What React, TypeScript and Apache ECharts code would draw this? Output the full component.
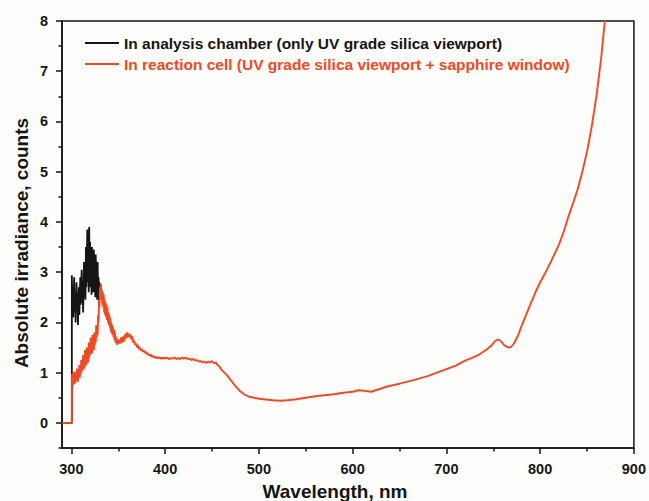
import { useEffect, useRef } from 'react';
import * as echarts from 'echarts';

const RED = '#EE4A26';
const INK = '#151515';
const FONT = '"Liberation Sans", Arial, sans-serif';

const blackName = 'In analysis chamber (only UV grade silica viewport)';
const redName = 'In reaction cell (UV grade silica viewport + sapphire window)';
const xAxisTitle = 'Wavelength, nm';
const yAxisTitle = 'Absolute irradiance, counts';

// x-axis ticks
const xMajorTicks = [300, 400, 500, 600, 700, 800, 900];
const xMinorTicks = [350, 450, 550, 650, 750, 850];
// y-axis ticks
const yMajorTicks = [0, 1, 2, 3, 4, 5, 6, 7, 8];
const yMinorTicks = [-0.5, 0.5, 1.5, 2.5, 3.5, 4.5, 5.5, 6.5, 7.5];

// dark baseline before the lamp onset (both curves)
const baselineNm = [290, 300.5];
const baselineValues = [0, 0];

// black curve: noisy UV segment, sampled every 0.5 nm from 300.5 nm
const blackStartNm = 300.5;
const blackStepNm = 0.5;
const blackValues = [
  2.94, 2.3, 2.7, 2.1, 2.6, 2.9, 2.2, 2.5, 2.0, 2.45,
  2.8, 2.25, 2.6, 1.95, 2.4, 2.7, 2.15, 2.55, 2.9, 2.35,
  2.75, 3.05, 2.4, 2.8, 2.2, 2.65, 3.2, 2.5, 3.0, 2.45,
  3.5, 2.7, 3.3, 3.85, 2.8, 3.4, 2.6, 3.9, 3.0, 3.6,
  2.7, 3.3, 2.55, 3.5, 2.9, 3.25, 2.6, 3.45, 2.75, 3.1,
  2.5, 3.35, 2.7, 3.0, 2.45, 3.2, 2.6, 2.9, 2.4, 2.8,
  2.5,
];

// red curve: noisy UV segment, every 0.5 nm from 300.5 to 350 nm
const redFineStartNm = 300.5;
const redFineStepNm = 0.5;
const redFineValues = [
  0.98, 0.8, 0.95, 0.75, 0.9, 1.02, 0.78, 0.92, 0.8, 1.0,
  0.85, 1.08, 0.9, 0.82, 1.05, 0.95, 1.15, 0.9, 1.1, 0.98,
  1.25, 1.02, 1.2, 1.05, 1.35, 1.1, 1.28, 1.08, 1.45, 1.2,
  1.38, 1.15, 1.5, 1.25, 1.42, 1.2, 1.6, 1.3, 1.48, 1.35,
  1.7, 1.4, 1.58, 1.38, 1.75, 1.5, 1.65, 1.45, 1.8, 1.55,
  1.75, 1.6, 1.95, 1.7, 1.9, 1.75, 2.15, 2.0, 2.45, 2.3,
  2.7, 2.5, 2.77, 2.45, 2.65, 2.35, 2.6, 2.3, 2.55, 2.2,
  2.45, 2.15, 2.4, 2.1, 2.35, 2.05, 2.3, 2.0, 2.2, 1.95,
  2.15, 1.9, 2.08, 1.82, 2.0, 1.78, 1.95, 1.75, 1.9, 1.7,
  1.85, 1.65, 1.8, 1.6, 1.72, 1.58, 1.68, 1.55, 1.65, 1.58,
];

// red curve: every 1 nm from 351 to 400 nm
const redCoarseStartNm = 351;
const redCoarseStepNm = 1;
const redCoarseValues = [
  1.66, 1.58, 1.7, 1.6, 1.72, 1.62, 1.76, 1.68, 1.8, 1.7,
  1.78, 1.72, 1.76, 1.66, 1.72, 1.6, 1.64, 1.55, 1.58, 1.5,
  1.55, 1.47, 1.5, 1.44, 1.47, 1.42, 1.45, 1.4, 1.42, 1.37,
  1.4, 1.35, 1.37, 1.33, 1.36, 1.31, 1.34, 1.3, 1.32, 1.29,
  1.31, 1.28, 1.31, 1.29, 1.3, 1.27, 1.3, 1.28, 1.3, 1.28,
];

// red curve: rest of the spectrum
const redTailNm = [
  402, 404, 406, 408, 410, 412, 414, 416, 418, 420,
  422, 424, 426, 428, 430, 432, 434, 436, 438, 440,
  442, 444, 446, 448, 450, 452, 454, 456, 458, 460,
  462, 465, 470, 475, 480, 485, 490, 495, 500,
  510, 515, 523, 530, 540, 550, 560, 570, 580, 590, 600,
  606, 612, 620, 628, 638, 650, 665, 680, 690, 700,
  710, 720, 728, 735, 743, 748, 752, 755, 758, 762,
  766, 769, 772, 776, 780, 785, 790, 795, 800,
  805, 810, 815, 820, 825, 830, 835, 840, 845, 850,
  855, 860, 865, 869, 874,
];
const redTailValues = [
  1.3, 1.27, 1.29, 1.28, 1.3, 1.27, 1.29, 1.27, 1.3, 1.28,
  1.3, 1.27, 1.28, 1.25, 1.27, 1.24, 1.25, 1.22, 1.23, 1.2,
  1.22, 1.19, 1.22, 1.2, 1.23, 1.19, 1.2, 1.15, 1.12, 1.06,
  1.02, 0.97, 0.85, 0.73, 0.63, 0.56, 0.52, 0.5, 0.48,
  0.46, 0.45, 0.44, 0.45, 0.47, 0.5, 0.53, 0.55, 0.57, 0.6, 0.62,
  0.65, 0.64, 0.62, 0.67, 0.73, 0.78, 0.85, 0.93, 1.0, 1.07,
  1.14, 1.24, 1.3, 1.36, 1.46, 1.54, 1.63, 1.66, 1.63, 1.54,
  1.5, 1.51, 1.58, 1.72, 1.92, 2.15, 2.38, 2.6, 2.8,
  2.97, 3.15, 3.35, 3.55, 3.8, 4.1, 4.37, 4.65, 5.0, 5.4,
  5.9, 6.5, 7.25, 8.0, 8.8,
];

const pairs = (nm: number[], vals: number[]) => vals.map((v, i) => [nm[i], v]);
const stepped = (start: number, step: number, vals: number[]) =>
  vals.map((v, i) => [start + i * step, v]);

const blackData = [
  ...pairs(baselineNm, baselineValues),
  ...stepped(blackStartNm, blackStepNm, blackValues),
];
const redData = [
  ...pairs(baselineNm, baselineValues),
  ...stepped(redFineStartNm, redFineStepNm, redFineValues),
  ...stepped(redCoarseStartNm, redCoarseStepNm, redCoarseValues),
  ...pairs(redTailNm, redTailValues),
];

const labelStyle = { fontFamily: FONT, fontWeight: 'bold' as const, fontSize: 14.5, color: INK };

export default function App() {
  const ref = useRef<HTMLDivElement>(null);
  useEffect(() => {
    const chart = echarts.init(ref.current!, null, { renderer: 'svg' });
    chart.setOption({
      animation: false,
      backgroundColor: '#fdfdfb',
      grid: {
        left: 62, right: 11, top: 21, bottom: 53,
        show: true, borderColor: INK, borderWidth: 1.5, backgroundColor: 'transparent',
      },
      legend: {
        left: 85, top: 35, padding: 0, orient: 'vertical', icon: 'rect',
        itemWidth: 34, itemHeight: 2, itemGap: 5, selectedMode: false,
        textStyle: { fontFamily: FONT, fontWeight: 'bold', fontSize: 15.5, lineHeight: 16 },
        data: [
          { name: blackName, textStyle: { color: INK } },
          { name: redName, textStyle: { color: RED } },
        ],
      },
      graphic: [
        {
          type: 'text', x: 335, y: 491,
          style: {
            text: xAxisTitle, fill: INK, font: `bold 19px ${FONT}`,
            align: 'center', verticalAlign: 'middle',
          },
        },
        {
          type: 'text', x: 21, y: 243, rotation: Math.PI / 2,
          style: {
            text: yAxisTitle, fill: INK, font: `bold 19px ${FONT}`,
            align: 'center', verticalAlign: 'middle',
          },
        },
      ],
      xAxis: [
        {
          type: 'value', min: 290, max: 900, position: 'bottom',
          axisLine: { show: true, onZero: false, lineStyle: { color: INK, width: 1.5 } },
          axisTick: { show: true, customValues: xMajorTicks, length: 6, lineStyle: { color: INK, width: 1.5 } },
          axisLabel: { customValues: xMajorTicks, margin: 13, ...labelStyle },
          splitLine: { show: false },
        },
        {
          type: 'value', min: 290, max: 900, position: 'bottom',
          axisLine: { show: false, onZero: false },
          axisTick: { show: true, customValues: xMinorTicks, length: 3.5, lineStyle: { color: INK, width: 1.5 } },
          axisLabel: { show: false },
          splitLine: { show: false },
        },
      ],
      yAxis: [
        {
          type: 'value', min: -0.5, max: 8, position: 'left',
          axisLine: { show: true, onZero: false, lineStyle: { color: INK, width: 1.5 } },
          axisTick: { show: true, customValues: yMajorTicks, length: 6, lineStyle: { color: INK, width: 1.5 } },
          axisLabel: { customValues: yMajorTicks, margin: 14, ...labelStyle },
          splitLine: { show: false },
        },
        {
          type: 'value', min: -0.5, max: 8, position: 'left',
          axisLine: { show: false, onZero: false },
          axisTick: { show: true, customValues: yMinorTicks, length: 3.5, lineStyle: { color: INK, width: 1.5 } },
          axisLabel: { show: false },
          splitLine: { show: false },
        },
      ],
      series: [
        {
          name: blackName, type: 'line', data: blackData, xAxisIndex: 0, yAxisIndex: 0,
          showSymbol: false, symbol: 'none', color: INK, lineStyle: { color: INK, width: 1.8 }, clip: true,
        },
        {
          name: redName, type: 'line', data: redData, xAxisIndex: 0, yAxisIndex: 0,
          showSymbol: false, symbol: 'none', color: RED, lineStyle: { color: RED, width: 1.9 }, clip: true,
        },
      ],
    });
    return () => chart.dispose();
  }, []);
  return (
    <div
      ref={ref}
      style={{ position: 'fixed', left: 0, top: 0, width: 649, height: 501, background: '#fdfdfb' }}
    />
  );
}
